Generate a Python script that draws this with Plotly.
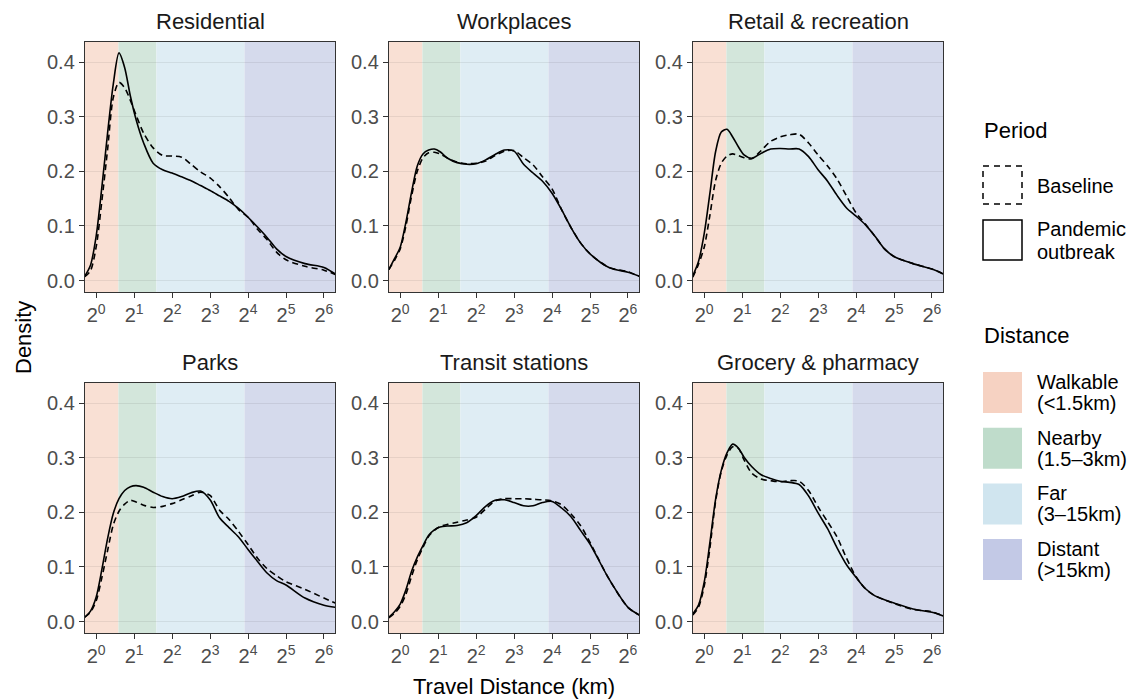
import math
import plotly.graph_objects as go

W, H = 1134, 699
FONT = "Liberation Sans, Arial, Helvetica, sans-serif"

# ---- data -------------------------------------------------------------
facets = ["Residential", "Workplaces", "Retail & recreation",
          "Parks", "Transit stations", "Grocery & pharmacy"]

# evaluation grid of the density estimates (km)
distance_km = [0.812, 0.901, 1.0, 1.110, 1.231, 1.366, 1.516, 1.682, 1.866,
               2.071, 2.378, 2.828, 3.364, 4.0, 4.757, 5.657, 6.727, 8.0,
               9.514, 11.31, 13.45, 16.0, 19.03, 22.63, 26.91, 32.0, 45.25,
               64.0, 78.8]

residential_baseline = [0.007, 0.018, 0.062, 0.147, 0.240, 0.335, 0.363, 0.353, 0.330,
                        0.303, 0.270, 0.243, 0.229, 0.228, 0.226, 0.213, 0.199, 0.188,
                        0.172, 0.152, 0.130, 0.116, 0.094, 0.075, 0.052, 0.038, 0.026,
                        0.019, 0.011]
residential_pandemic = [0.008, 0.028, 0.082, 0.172, 0.270, 0.360, 0.417, 0.390, 0.338,
                        0.295, 0.252, 0.215, 0.203, 0.197, 0.190, 0.183, 0.174, 0.165,
                        0.155, 0.145, 0.132, 0.116, 0.098, 0.079, 0.058, 0.044, 0.031,
                        0.024, 0.012]

workplaces_baseline = [0.020, 0.037, 0.058, 0.100, 0.155, 0.200, 0.225, 0.234, 0.235,
                       0.232, 0.224, 0.217, 0.214, 0.215, 0.219, 0.229, 0.237, 0.238,
                       0.225, 0.212, 0.190, 0.168, 0.130, 0.097, 0.069, 0.049, 0.024,
                       0.016, 0.008]
workplaces_pandemic = [0.020, 0.040, 0.061, 0.107, 0.162, 0.210, 0.232, 0.239, 0.241,
                       0.236, 0.224, 0.216, 0.213, 0.214, 0.221, 0.231, 0.239, 0.237,
                       0.213, 0.197, 0.182, 0.160, 0.130, 0.097, 0.069, 0.049, 0.024,
                       0.015, 0.008]

retail_baseline = [0.006, 0.030, 0.061, 0.120, 0.183, 0.215, 0.228, 0.232, 0.229,
                   0.225, 0.223, 0.238, 0.255, 0.263, 0.267, 0.268, 0.252, 0.230,
                   0.210, 0.186, 0.155, 0.124, 0.103, 0.081, 0.058, 0.044, 0.031,
                   0.021, 0.012]
retail_pandemic = [0.009, 0.035, 0.086, 0.160, 0.236, 0.272, 0.277, 0.263, 0.245,
                   0.230, 0.224, 0.233, 0.241, 0.242, 0.241, 0.241, 0.227, 0.203,
                   0.182, 0.156, 0.133, 0.118, 0.102, 0.081, 0.058, 0.044, 0.031,
                   0.021, 0.012]

parks_baseline = [0.008, 0.017, 0.038, 0.081, 0.130, 0.177, 0.202, 0.215, 0.222,
                  0.219, 0.213, 0.209, 0.211, 0.216, 0.223, 0.230, 0.237, 0.231,
                  0.204, 0.187, 0.165, 0.141, 0.116, 0.097, 0.084, 0.073, 0.059,
                  0.043, 0.034]
parks_pandemic = [0.008, 0.019, 0.045, 0.096, 0.152, 0.198, 0.225, 0.240, 0.247,
                  0.249, 0.246, 0.237, 0.229, 0.225, 0.229, 0.236, 0.239, 0.223,
                  0.190, 0.172, 0.155, 0.132, 0.110, 0.089, 0.075, 0.067, 0.043,
                  0.030, 0.026]

transit_baseline = [0.007, 0.015, 0.028, 0.050, 0.083, 0.113, 0.136, 0.156, 0.167,
                    0.174, 0.178, 0.182, 0.186, 0.191, 0.206, 0.221, 0.225, 0.225,
                    0.225, 0.224, 0.223, 0.221, 0.214, 0.197, 0.176, 0.145, 0.078,
                    0.026, 0.012]
transit_pandemic = [0.008, 0.018, 0.032, 0.058, 0.092, 0.118, 0.139, 0.158, 0.168,
                    0.173, 0.175, 0.176, 0.181, 0.194, 0.211, 0.222, 0.223, 0.218,
                    0.212, 0.212, 0.218, 0.220, 0.208, 0.192, 0.167, 0.142, 0.078,
                    0.026, 0.012]

grocery_baseline = [0.012, 0.026, 0.065, 0.135, 0.220, 0.275, 0.305, 0.320, 0.317,
                    0.296, 0.272, 0.261, 0.258, 0.256, 0.258, 0.257, 0.240, 0.210,
                    0.183, 0.155, 0.116, 0.082, 0.060, 0.047, 0.040, 0.033, 0.022,
                    0.018, 0.010]
grocery_pandemic = [0.014, 0.030, 0.072, 0.145, 0.224, 0.277, 0.309, 0.325, 0.318,
                    0.301, 0.284, 0.269, 0.262, 0.257, 0.255, 0.251, 0.230, 0.199,
                    0.170, 0.135, 0.104, 0.081, 0.060, 0.047, 0.040, 0.034, 0.023,
                    0.017, 0.010]

baseline_series = [residential_baseline, workplaces_baseline, retail_baseline,
                   parks_baseline, transit_baseline, grocery_baseline]
pandemic_series = [residential_pandemic, workplaces_pandemic, retail_pandemic,
                   parks_pandemic, transit_pandemic, grocery_pandemic]

# distance classes (km boundaries) and legend labels
band_names = ["Walkable", "Nearby", "Far", "Distant"]
band_ranges = ["(<1.5km)", "(1.5\u20133km)", "(3\u201315km)", "(>15km)"]
band_edges_km = [1.5, 3.0, 15.0]

x_tick_exponents = [0, 1, 2, 3, 4, 5, 6]
y_ticks = [0.0, 0.1, 0.2, 0.3, 0.4]

# ---- styling ------------------------------------------------------------
X_LIMITS_KM = (0.815, 78.3)
Y_LIMITS = (-0.021, 0.437)
band_fill_panel = ["#F9E0D4", "#D3E6DB", "#DFEDF4", "#D5DAEC"]
band_fill_key = ["#F6D2C2", "#BFDCCB", "#D0E5EF", "#C3C9E6"]

PANEL_COLS = [(85, 335), (389, 639), (693, 943)]
PANEL_ROWS = [(42, 292), (383, 633)]


def px(x):
    return x / W


def py(y):
    return 1 - y / H


fig = go.Figure()
layout_axes = {}
shapes = []
annotations = []

tick_vals = [2 ** e for e in x_tick_exponents]
tick_text = [f"2<sup>{e}</sup>" for e in x_tick_exponents]
band_bounds = [X_LIMITS_KM[0]] + band_edges_km + [X_LIMITS_KM[1]]

for i, facet in enumerate(facets):
    r, c = divmod(i, 3)
    x0p, x1p = PANEL_COLS[c]
    y0p, y1p = PANEL_ROWS[r]
    suffix = "" if i == 0 else str(i + 1)
    xa, ya = "x" + suffix, "y" + suffix

    layout_axes["xaxis" + suffix] = dict(
        type="log", domain=[px(x0p), px(x1p)], anchor=ya,
        range=[math.log10(X_LIMITS_KM[0]), math.log10(X_LIMITS_KM[1])],
        tickvals=tick_vals, ticktext=tick_text,
        ticks="outside", ticklen=5, tickwidth=1.2, tickcolor="#333333",
        showline=True, mirror=True, linecolor="#333333", linewidth=1.4,
        showgrid=False, zeroline=False,
        tickfont=dict(family=FONT, size=20, color="#4D4D4D"),
    )
    layout_axes["yaxis" + suffix] = dict(
        domain=[py(y1p), py(y0p)], anchor=xa, range=list(Y_LIMITS),
        tickvals=y_ticks, tickformat=".1f",
        ticks="outside", ticklen=5, tickwidth=1.2, tickcolor="#333333",
        showline=True, mirror=True, linecolor="#333333", linewidth=1.4,
        showgrid=True, gridcolor="rgba(0,0,0,0.07)", gridwidth=1.3,
        zeroline=False,
        tickfont=dict(family=FONT, size=20, color="#4D4D4D"),
    )

    # shaded distance classes
    for k in range(4):
        shapes.append(dict(
            type="rect", xref=xa, yref=ya + " domain",
            x0=band_bounds[k], x1=band_bounds[k + 1], y0=0, y1=1,
            fillcolor=band_fill_panel[k], line=dict(width=0), layer="below",
        ))

    fig.add_trace(go.Scatter(
        x=distance_km, y=baseline_series[i], mode="lines", xaxis=xa, yaxis=ya,
        line=dict(color="black", width=1.6, dash="6px,4px", shape="spline", smoothing=0.8),
        showlegend=False, hoverinfo="skip",
    ))
    fig.add_trace(go.Scatter(
        x=distance_km, y=pandemic_series[i], mode="lines", xaxis=xa, yaxis=ya,
        line=dict(color="black", width=1.6, shape="spline", smoothing=0.8),
        showlegend=False, hoverinfo="skip",
    ))

    # facet strip title
    annotations.append(dict(
        text=facet, x=px((x0p + x1p) / 2), y=py(y0p - 21), xref="paper", yref="paper",
        xanchor="center", yanchor="middle", showarrow=False,
        font=dict(family=FONT, size=22, color="#1A1A1A"),
    ))

# axis titles
annotations.append(dict(
    text="Travel Distance (km)", x=px((85 + 943) / 2), y=py(686), xref="paper", yref="paper",
    xanchor="center", yanchor="middle", showarrow=False,
    font=dict(family=FONT, size=22, color="black"),
))
annotations.append(dict(
    text="Density", x=px(23), y=py(338), xref="paper", yref="paper", textangle=-90,
    xanchor="center", yanchor="middle", showarrow=False,
    font=dict(family=FONT, size=22, color="black"),
))

# ---- legends ------------------------------------------------------------
KEY_X0, KEY_X1, LABEL_X = 983, 1022, 1035


def legend_text(text, y, size=20, x=LABEL_X):
    annotations.append(dict(
        text=text, x=px(x), y=py(y), xref="paper", yref="paper",
        xanchor="left", yanchor="middle", showarrow=False,
        font=dict(family=FONT, size=size, color="black"),
    ))


legend_text("Period", 131, size=22, x=KEY_X0 - 1)
shapes.append(dict(type="rect", xref="paper", yref="paper",
                   x0=px(KEY_X0), x1=px(KEY_X1), y0=py(204), y1=py(166),
                   line=dict(color="black", width=1.5, dash="6px,5px"),
                   fillcolor="rgba(0,0,0,0)"))
legend_text("Baseline", 186)
shapes.append(dict(type="rect", xref="paper", yref="paper",
                   x0=px(KEY_X0), x1=px(KEY_X1), y0=py(260), y1=py(220),
                   line=dict(color="black", width=1.5),
                   fillcolor="rgba(0,0,0,0)"))
legend_text("Pandemic", 229)
legend_text("outbreak", 252)

legend_text("Distance", 335, size=22, x=KEY_X0 - 1)
for k in range(4):
    top = 372 + 55.7 * k
    shapes.append(dict(type="rect", xref="paper", yref="paper",
                       x0=px(KEY_X0), x1=px(KEY_X1), y0=py(top + 41), y1=py(top),
                       line=dict(width=0), fillcolor=band_fill_key[k]))
    legend_text(band_names[k], top + 10)
    legend_text(band_ranges[k], top + 31)

fig.update_layout(
    width=W, height=H, margin=dict(l=0, r=0, t=0, b=0),
    paper_bgcolor="white", plot_bgcolor="white",
    font=dict(family=FONT),
    shapes=shapes, annotations=annotations, showlegend=False,
    **layout_axes,
)

fig.write_html("out.html")
